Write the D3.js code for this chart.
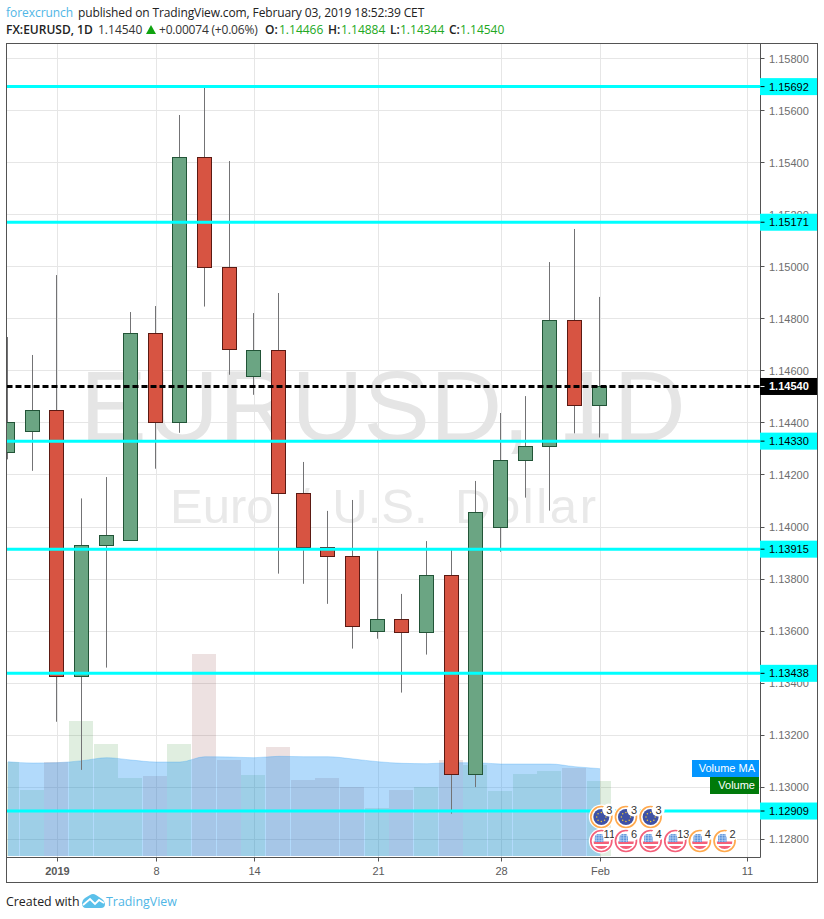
<!DOCTYPE html>
<html>
<head>
<meta charset="utf-8">
<script src="https://cdnjs.cloudflare.com/ajax/libs/d3/7.8.5/d3.min.js"></script>
<style>
html,body{margin:0;padding:0;background:#fff}
svg{display:block}
</style>
</head>
<body>
<div id="chart"></div>
<script>
const opens  = [1.14287,1.14368,1.14448,1.13427,1.13928,1.13949,1.14744,1.14402,1.15420,1.14998,1.14579,1.14679,1.14130,1.13920,1.13888,1.13600,1.13646,1.13596,1.13815,1.13050,1.13999,1.14256,1.14310,1.14794,1.14466];
const highs  = [1.14730,1.14661,1.14968,1.14110,1.14192,1.14826,1.14849,1.15583,1.15691,1.15406,1.14822,1.14899,1.14250,1.14062,1.14104,1.13916,1.13743,1.13946,1.13916,1.14177,1.14438,1.14503,1.15018,1.15145,1.14884];
const lows   = [1.14260,1.14216,1.13252,1.13067,1.13460,1.13949,1.14224,1.14362,1.14847,1.14585,1.14508,1.13821,1.13782,1.13705,1.13533,1.13571,1.13364,1.13510,1.12899,1.13001,1.13905,1.14113,1.14063,1.14360,1.14344];
const closes = [1.14402,1.14448,1.13427,1.13928,1.13968,1.14744,1.14402,1.15420,1.14998,1.14683,1.14679,1.14130,1.13920,1.13888,1.13619,1.13646,1.13596,1.13815,1.13050,1.14057,1.14256,1.14310,1.14794,1.14468,1.14540];
const volumes  = [94,66,94,135,112,78,80,112,202,96,81,109,76,78,69,48,66,69,96,91,65,82,85,88,75];
const volumeMA = [94.3,93,93.3,95.3,98.3,96,94,94,99.3,99,98.3,99.7,99.3,99.3,97,94.3,92.7,92.3,93.3,93.3,92,92,92,89.3,87.3];
const levels = [1.15692,1.15171,1.14330,1.13915,1.13438,1.12909];
const lastPrice = 1.14540;
const priceTicks = [1.158,1.156,1.154,1.152,1.150,1.148,1.146,1.144,1.142,1.140,1.138,1.136,1.134,1.132,1.130,1.128];
const dateTickIndex = [2,6,10,15,20,24,30];
const dateTickLabel = ["2019","8","14","21","28","Feb","11"];
const eurEvents = [3,3,3];
const usdEvents = [11,6,4,13,4,2];
const usdRing = ["#f4607a","#f4607a","#f4607a","#f4607a","#ffa94d","#ffa94d"];

const W = 824, H = 919;
const L = 6.5, T = 43.5, R = 760.5, B = 857.5, OR = 817.5, OB = 882.5;
const svg = d3.select("#chart").append("svg").attr("width",W).attr("height",H);

const x = d3.scaleLinear().domain([0,30]).range([7.41,746.91]);
const y = d3.scaleLinear().domain([1.128,1.158]).range([839.4,58.5]);
const vy = d3.scaleLinear().domain([0,202]).range([856,654]);
const px = i => Math.floor(x(i));
const SANS = "'Liberation Sans',Arial,sans-serif";
const HEAD = "'Open Sans',sans-serif";

svg.append("clipPath").attr("id","plot").append("rect")
  .attr("x",7).attr("y",44).attr("width",753).attr("height",813);

const plot = svg.append("g").attr("clip-path","url(#plot)");

// grid
plot.append("g").selectAll("line").data(priceTicks).join("line")
  .attr("x1",L).attr("x2",R).attr("y1",d=>Math.floor(y(d))+.5).attr("y2",d=>Math.floor(y(d))+.5)
  .attr("stroke","#e6e6e6");
plot.append("g").selectAll("line").data(dateTickIndex).join("line")
  .attr("x1",d=>px(d)+1.5).attr("x2",d=>px(d)+1.5).attr("y1",T).attr("y2",B)
  .attr("stroke","#e6e6e6");

// watermark
plot.append("text").attr("x",80).attr("y",441).attr("font-family",SANS).attr("font-size",100)
  .attr("fill","#e5e5e5").text("EURUSD, 1D");
const sub = plot.append("text").attr("y",523).attr("font-family",SANS).attr("font-size",49)
  .attr("fill","#e9e9e9");
sub.append("tspan").attr("x",170).attr("word-spacing",9).text("Euro / U.S. ");
sub.append("tspan").attr("x",455).attr("letter-spacing",2.6).text("Dollar");

// volume bars
plot.append("g").selectAll("rect").data(volumes).join("rect")
  .attr("x",(d,i)=>px(i)-12).attr("width",24)
  .attr("y",d=>vy(d)).attr("height",d=>vy(0)-vy(d))
  .attr("fill",(d,i)=>closes[i]>=opens[i]?"#0f7b0f":"#731717").attr("fill-opacity",.13);

// volume MA
const idx = d3.range(volumeMA.length);
plot.append("path").datum(idx)
  .attr("d",d3.area().x(i=>px(i)+1).y0(vy(0)).y1(i=>vy(volumeMA[i])).curve(d3.curveMonotoneX))
  .attr("fill","#2196f3").attr("fill-opacity",.35);
plot.append("path").datum(idx)
  .attr("d",d3.line().x(i=>px(i)+1).y(i=>vy(volumeMA[i])).curve(d3.curveMonotoneX))
  .attr("fill","none").attr("stroke","#2196f3").attr("stroke-opacity",.25);

// candles
const candles = plot.append("g").selectAll("g").data(opens).join("g");
candles.append("line")
  .attr("x1",(d,i)=>px(i)+.5).attr("x2",(d,i)=>px(i)+.5)
  .attr("y1",(d,i)=>y(highs[i])).attr("y2",(d,i)=>y(lows[i]))
  .attr("stroke","#737375");
candles.append("rect")
  .attr("x",(d,i)=>px(i)-6.5).attr("width",14)
  .attr("y",(d,i)=>Math.floor(y(Math.max(opens[i],closes[i])))+.5)
  .attr("height",(d,i)=>Math.max(1,Math.floor(y(Math.min(opens[i],closes[i])))-Math.floor(y(Math.max(opens[i],closes[i])))))
  .attr("fill",(d,i)=>closes[i]>=opens[i]?"#6ba583":"#d75442")
  .attr("stroke",(d,i)=>closes[i]>=opens[i]?"#225437":"#5b1a13");

// horizontal levels
plot.append("g").selectAll("line").data(levels).join("line")
  .attr("x1",L).attr("x2",R).attr("y1",d=>y(d)).attr("y2",d=>y(d))
  .attr("stroke","#00ffff").attr("stroke-width",3);
plot.append("line").attr("x1",L).attr("x2",R).attr("y1",y(lastPrice)).attr("y2",y(lastPrice))
  .attr("stroke","#000").attr("stroke-width",3).attr("stroke-dasharray","6 3");

// events
function ring(g, cx, cy, color){
  g.append("circle").attr("cx",cx).attr("cy",cy).attr("r",12.5).attr("fill","#fff");
  g.append("circle").attr("cx",cx).attr("cy",cy).attr("r",10.5).attr("fill","#fff")
    .attr("stroke",color).attr("stroke-width",1.7);
}
function badge(g, cx, cy, n){
  g.append("circle").attr("cx",cx+7.5).attr("cy",cy-7).attr("r",6.5).attr("fill","#fff");
  g.append("text").attr("x",cx+8).attr("y",cy-3).attr("text-anchor","middle")
    .attr("font-family",SANS).attr("font-size",11).attr("fill","#333").text(n);
}
const ev = svg.append("g");
eurEvents.forEach((n,k)=>{
  const cx = x(24+k)+2.3, cy = 817;
  const g = ev.append("g");
  ring(g,cx,cy,"#ffa94d");
  g.append("circle").attr("cx",cx).attr("cy",cy).attr("r",8).attr("fill","#3f51a5");
  d3.range(8).forEach(a=>{
    g.append("circle").attr("cx",cx+4.6*Math.cos(a*Math.PI/4)).attr("cy",cy+4.6*Math.sin(a*Math.PI/4))
      .attr("r",.75).attr("fill","#e8c93a");
  });
  badge(g,cx,cy,n);
});
usdEvents.forEach((n,k)=>{
  const cx = x(24+k)+2.3, cy = 841;
  const g = ev.append("g");
  ring(g,cx,cy,usdRing[k]);
  const id = "f"+k;
  g.append("clipPath").attr("id",id).append("circle").attr("cx",cx).attr("cy",cy).attr("r",8);
  const f = g.append("g").attr("clip-path",`url(#${id})`);
  f.append("rect").attr("x",cx-8).attr("y",cy+.5).attr("width",16).attr("height",2.5).attr("fill","#f4607a");
  f.append("rect").attr("x",cx-8).attr("y",cy+5).attr("width",16).attr("height",3).attr("fill","#f4607a");
  f.append("rect").attr("x",cx-6.5).attr("y",cy-7).attr("width",8.5).attr("height",8).attr("fill","#5b93dc");
  d3.range(3).forEach(q=>{
    f.append("line").attr("x1",cx-6.5+q*2.8+1.4).attr("x2",cx-6.5+q*2.8+1.4).attr("y1",cy-7).attr("y2",cy+1).attr("stroke","#cfe0f6").attr("stroke-width",.6);
    f.append("line").attr("x1",cx-6.5).attr("x2",cx+2).attr("y1",cy-7+q*2.7+1.3).attr("y2",cy-7+q*2.7+1.3).attr("stroke","#cfe0f6").attr("stroke-width",.6);
  });
  badge(g,cx,cy,n);
});

// frame
const fr = svg.append("g").attr("stroke","#535353").attr("fill","none");
fr.append("rect").attr("x",L).attr("y",T).attr("width",OR-L).attr("height",OB-T);
fr.append("line").attr("x1",R).attr("x2",R).attr("y1",T).attr("y2",B);
fr.append("line").attr("x1",L).attr("x2",R).attr("y1",B).attr("y2",B);

// price axis
const yAxis = svg.append("g");
yAxis.selectAll("line").data(priceTicks).join("line")
  .attr("x1",R).attr("x2",R+4).attr("y1",d=>Math.floor(y(d))+.5).attr("y2",d=>Math.floor(y(d))+.5)
  .attr("stroke","#535353");
yAxis.selectAll("text").data(priceTicks).join("text")
  .attr("x",769).attr("y",d=>y(d)+4).attr("font-family",SANS).attr("font-size",11)
  .attr("fill","#6d6d6d").text(d=>d.toFixed(5));

// date axis
const xAxis = svg.append("g");
xAxis.selectAll("line").data(dateTickIndex).join("line")
  .attr("x1",d=>px(d)+1.5).attr("x2",d=>px(d)+1.5).attr("y1",B).attr("y2",B+4)
  .attr("stroke","#535353");
xAxis.selectAll("text").data(dateTickIndex).join("text")
  .attr("x",d=>px(d)+1.5).attr("y",875).attr("text-anchor","middle")
  .attr("font-family",SANS).attr("font-size",11)
  .attr("font-weight",(d,i)=>i===0?"bold":"normal")
  .attr("fill","#5a5a5a").text((d,i)=>dateTickLabel[i]);

// level labels
function priceTag(v,bg,fg,w){
  const g = svg.append("g");
  const c = y(v);
  g.append("rect").attr("x",760).attr("y",c-8.5).attr("width",57).attr("height",17).attr("fill",bg);
  g.append("line").attr("x1",R).attr("x2",R+4).attr("y1",c).attr("y2",c).attr("stroke",fg);
  g.append("text").attr("x",769).attr("y",c+4).attr("font-family",SANS).attr("font-size",11)
    .attr("font-weight",w).attr("fill",fg).text(v.toFixed(5));
}
levels.forEach(v=>priceTag(v,"#00ffff","#000","normal"));
priceTag(lastPrice,"#000","#fff","bold");

// indicator tags
function tag(x0,y0,w,bg,label){
  svg.append("rect").attr("x",x0).attr("y",y0).attr("width",w).attr("height",17).attr("fill",bg);
  svg.append("text").attr("x",755).attr("y",y0+12).attr("text-anchor","end")
    .attr("font-family",SANS).attr("font-size",11).attr("fill","#fff").text(label);
}
tag(692,760,67,"#0496ff","Volume MA");
tag(710,777,49,"#007a0a","Volume");

// header
const hdr = svg.append("g").attr("font-family",HEAD).attr("font-size",12);
const put = (xx,yy,s,fill,w,ls)=>hdr.append("text").attr("x",xx).attr("y",yy).attr("fill",fill)
  .attr("font-weight",w||400).attr("letter-spacing",ls||0).text(s);
put(6,17,"forexcrunch","#4fb6e6",400,-.05);
put(78,17,"published on TradingView.com, February 03, 2019 18:52:39 CET","#222",400,-.12);
put(6,34,"FX:EURUSD, 1D","#222",600);
put(98,34,"1.14540","#333");
hdr.append("path").attr("d","M146 34L151 25L156 34Z").attr("fill","#0fa30f");
put(159,34,"+0.00074 (+0.06%)","#333",400,-.2);
const green = "#22a822";
put(265,34,"O:","#222",600); put(279,34,"1.14466",green);
put(328,34,"H:","#222",600); put(341,34,"1.14884",green);
put(390,34,"L:","#222",600); put(400,34,"1.14344",green);
put(449,34,"C:","#222",600); put(460,34,"1.14540",green);

// footer
const ftr = svg.append("g").attr("font-family",HEAD).attr("font-size",12.4);
ftr.append("text").attr("x",6).attr("y",906).attr("fill","#222").text("Created with");
ftr.append("text").attr("x",106).attr("y",906).attr("fill","#4fb6e6").text("TradingView");
ftr.append("path").attr("d","M82 903Q82 900 85 898L90 895Q93 893 96 895L102 899Q105 901 105 904Q105 908 101 908L86 908Q82 908 82 903Z").attr("fill","#5bc0ea");
ftr.append("path").attr("d","M83 905L90 899L95 904L99 900L104 903").attr("fill","none").attr("stroke","#fff").attr("stroke-width",1.8);
</script>
</body>
</html>
